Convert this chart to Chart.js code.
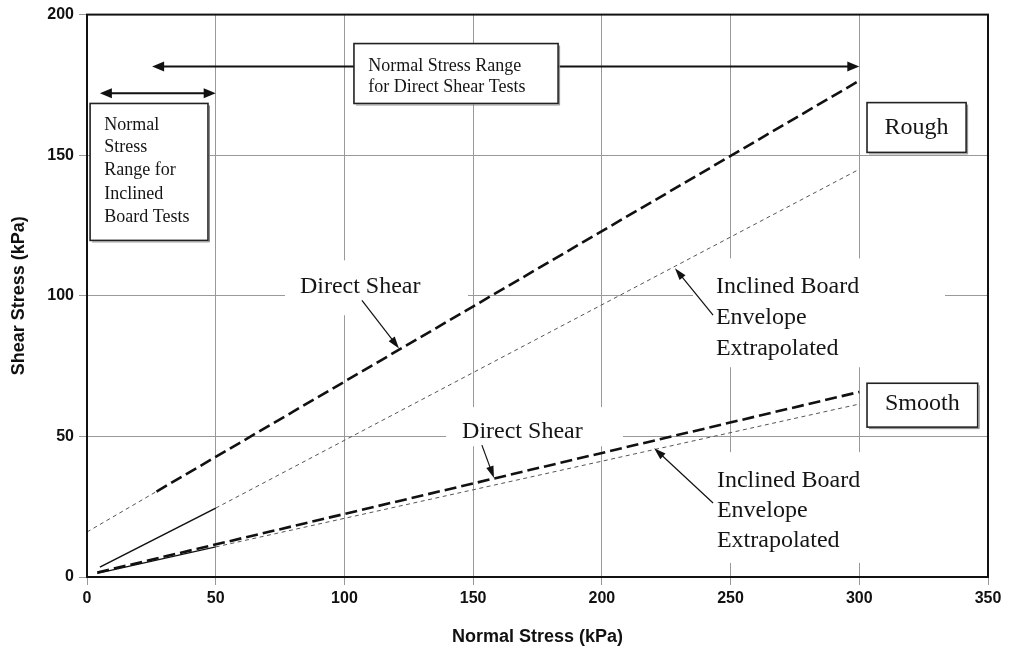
<!DOCTYPE html>
<html>
<head>
<meta charset="utf-8">
<script src="https://cdn.jsdelivr.net/npm/chart.js@4.4.1/dist/chart.umd.min.js"></script>
<style>
  html, body { margin: 0; padding: 0; background: #fff; overflow: hidden; }
  #wrap { width: 1010px; height: 650px; }
</style>
</head>
<body>
<div id="wrap"><canvas id="c" width="1010" height="650"></canvas></div>
<script>
// Axis ticks (kPa)
const xTicks = [0, 50, 100, 150, 200, 250, 300, 350];
const yTicks = [0, 50, 100, 150, 200];

// Rough interface: direct shear envelope (tested range) and its extension to the axis
const roughShearX = [27, 300];
const roughShearY = [30.4, 176.5];
const roughShearBackX = [0, 27];
const roughShearBackY = [16, 30.4];

// Rough interface: inclined board envelope (tested) and extrapolated
const roughBoardX = [5, 50];
const roughBoardY = [3.5, 24.5];
const roughBoardExtX = [50, 300];
const roughBoardExtY = [24.5, 145];

// Smooth interface: direct shear envelope
const smoothShearX = [4, 300];
const smoothShearY = [1.6, 65.8];

// Smooth interface: inclined board envelope (tested) and extrapolated
const smoothBoardX = [4, 50];
const smoothBoardY = [1.3, 10.7];
const smoothBoardExtX = [50, 300];
const smoothBoardExtY = [10.7, 61.5];

const pts = (xs, ys) => xs.map((x, i) => ({ x, y: ys[i] }));

const heavyDash = { borderColor: '#111', borderWidth: 2.6, borderDash: [12, 5] };
const lightDot  = { borderColor: '#555', borderWidth: 1,   borderDash: [4, 3.5] };
const solid     = { borderColor: '#111', borderWidth: 1.6, borderDash: [] };

const SERIF = '"Liberation Serif", "Times New Roman", serif';
const SANS = '"Liberation Sans", Arial, sans-serif';

// Annotation layout, in data units (kPa)
const labelBacks = [           // white areas behind free text (hide grid)
  [76.9, 112.6, 148.0, 93.1],
  [235.4, 113.3, 333.3, 74.6],
  [139.5, 60.4, 208.2, 46.5],
  [238.1, 44.4, 308.0, 5.0]
];
const framedBoxes = [          // boxed captions
  { box: [1.2, 168.4, 47.0, 119.7], size: 18, x: 6.7,
    lines: [['Normal', 158.8], ['Stress', 151.1], ['Range for', 142.8], ['Inclined', 134.5], ['Board Tests', 126.2]] },
  { box: [103.7, 189.7, 183.0, 168.4], size: 18, x: 109.3,
    lines: [['Normal Stress Range', 180.1], ['for Direct Shear Tests', 172.4]] },
  { box: [303.0, 168.7, 341.5, 151.0], size: 24, center: true, lines: [['Rough', 157.7]] },
  { box: [303.0, 68.9, 346.0, 53.3], size: 24, center: true, lines: [['Smooth', 59.3]] }
];
const freeTexts = [
  { x: 82.7, lines: [['Direct Shear', 100.9]] },
  { x: 244.3, lines: [['Inclined Board', 100.9], ['Envelope', 89.9], ['Extrapolated', 78.9]] },
  { x: 145.7, lines: [['Direct Shear', 49.3]] },
  { x: 244.7, lines: [['Inclined Board', 32.0], ['Envelope', 21.2], ['Extrapolated', 10.6]] }
];
const pointers = [             // [fromX, fromY, toX, toY]
  [106.8, 98.4, 121.2, 81.3],
  [153.4, 46.9, 158.1, 35.2],
  [243.2, 93.1, 228.4, 109.8],
  [243.2, 26.3, 220.3, 45.8]
];
const rangeArrows = [          // [x1, x2, y]
  [25.3, 300, 181.5],
  [5, 50, 172]
];

function head(ctx, x1, y1, x2, y2, len, half) {
  const a = Math.atan2(y2 - y1, x2 - x1);
  ctx.beginPath();
  ctx.moveTo(x2, y2);
  ctx.lineTo(x2 - len * Math.cos(a) + half * Math.sin(a), y2 - len * Math.sin(a) - half * Math.cos(a));
  ctx.lineTo(x2 - len * Math.cos(a) - half * Math.sin(a), y2 - len * Math.sin(a) + half * Math.cos(a));
  ctx.closePath();
  ctx.fill();
}

function line(ctx, x1, y1, x2, y2) {
  ctx.beginPath(); ctx.moveTo(x1, y1); ctx.lineTo(x2, y2); ctx.stroke();
}

const annotations = {
  id: 'annotations',
  beforeDatasetsDraw(chart) {
    const { ctx, scales: { x, y } } = chart;
    ctx.save();
    ctx.fillStyle = '#fff';
    labelBacks.forEach(([x1, y1, x2, y2]) => {
      const l = x.getPixelForValue(x1), t = y.getPixelForValue(y1);
      ctx.fillRect(l, t, x.getPixelForValue(x2) - l, y.getPixelForValue(y2) - t);
    });
    ctx.restore();
  },
  afterDatasetsDraw(chart) {
    const { ctx, chartArea: ca, scales: { x, y } } = chart;
    const X = v => x.getPixelForValue(v), Y = v => y.getPixelForValue(v);
    ctx.save();

    // plot frame
    ctx.strokeStyle = '#111';
    ctx.lineWidth = 2;
    ctx.strokeRect(ca.left, ca.top, ca.right - ca.left, ca.bottom - ca.top);

    // normal stress range arrows (double-headed)
    ctx.fillStyle = '#111';
    ctx.lineWidth = 2;
    rangeArrows.forEach(([a, b, v]) => {
      const xa = X(a), xb = X(b), yy = Y(v);
      line(ctx, xa + 6, yy, xb - 6, yy);
      head(ctx, xb - 12, yy, xb, yy, 12, 5);
      head(ctx, xa + 12, yy, xa, yy, 12, 5);
    });

    // pointer arrows
    ctx.lineWidth = 1.2;
    pointers.forEach(([a, b, c, d]) => {
      const x1 = X(a), y1 = Y(b), x2 = X(c), y2 = Y(d);
      const ang = Math.atan2(y2 - y1, x2 - x1);
      line(ctx, x1, y1, x2 - 6 * Math.cos(ang), y2 - 6 * Math.sin(ang));
      head(ctx, x1, y1, x2, y2, 12, 3.8);
    });

    // boxed captions
    framedBoxes.forEach(b => {
      const [x1, y1, x2, y2] = b.box;
      const l = X(x1), t = Y(y1), w = X(x2) - l, h = Y(y2) - t;
      ctx.fillStyle = '#fff';
      ctx.fillRect(l, t, w, h);
      ctx.strokeStyle = '#222';
      ctx.lineWidth = 1.6;
      ctx.strokeRect(l, t, w, h);
      ctx.strokeStyle = '#888';
      ctx.lineWidth = 1;
      line(ctx, l + 2, t + h + 1.5, l + w + 1.5, t + h + 1.5);
      line(ctx, l + w + 1.5, t + 2, l + w + 1.5, t + h + 1.5);
      ctx.fillStyle = '#151515';
      ctx.font = b.size + 'px ' + SERIF;
      ctx.textBaseline = 'alphabetic';
      ctx.textAlign = b.center ? 'center' : 'left';
      b.lines.forEach(([s, v]) => ctx.fillText(s, b.center ? l + w / 2 : X(b.x), Y(v)));
    });

    // free text
    ctx.fillStyle = '#151515';
    ctx.font = '24px ' + SERIF;
    ctx.textAlign = 'left';
    ctx.textBaseline = 'alphabetic';
    freeTexts.forEach(t => t.lines.forEach(([s, v]) => ctx.fillText(s, X(t.x), Y(v))));

    ctx.restore();
  }
};

new Chart(document.getElementById('c'), {
  type: 'scatter',
  data: {
    datasets: [
      { label: 'Rough – Direct Shear', data: pts(roughShearX, roughShearY), ...heavyDash },
      { label: 'Rough – Direct Shear (extended)', data: pts(roughShearBackX, roughShearBackY), ...lightDot },
      { label: 'Rough – Inclined Board', data: pts(roughBoardX, roughBoardY), ...solid },
      { label: 'Rough – Inclined Board (extrapolated)', data: pts(roughBoardExtX, roughBoardExtY), ...lightDot },
      { label: 'Smooth – Inclined Board', data: pts(smoothBoardX, smoothBoardY), ...solid, borderWidth: 1.2 },
      { label: 'Smooth – Inclined Board (extrapolated)', data: pts(smoothBoardExtX, smoothBoardExtY), ...lightDot },
      { label: 'Smooth – Direct Shear', data: pts(smoothShearX, smoothShearY), ...heavyDash }
    ].map(d => ({ ...d, showLine: true, pointRadius: 0, fill: false, tension: 0 }))
  },
  options: {
    responsive: false,
    animation: false,
    events: [],
    layout: { padding: { top: 14, right: 22, left: 0, bottom: 0 } },
    plugins: { legend: { display: false }, tooltip: { enabled: false } },
    scales: {
      x: {
        type: 'linear', min: 0, max: 350,
        afterFit: s => { s.height = 73; },
        afterBuildTicks: s => { s.ticks = xTicks.map(v => ({ value: v })); },
        grid: { color: '#999', lineWidth: 1, tickLength: 8, drawTicks: true },
        border: { color: '#111', width: 2 },
        ticks: { color: '#111', padding: 4, font: { family: SANS, size: 16, weight: 'bold' } },
        title: { display: true, text: 'Normal Stress (kPa)', color: '#111',
                 padding: { top: 0, bottom: 2 }, font: { family: SANS, size: 18, weight: 'bold' } }
      },
      y: {
        type: 'linear', min: 0, max: 200,
        afterFit: s => { s.width = 87; },
        afterBuildTicks: s => { s.ticks = yTicks.map(v => ({ value: v })); },
        grid: { color: '#999', lineWidth: 1, tickLength: 8, drawTicks: true },
        border: { color: '#111', width: 2 },
        ticks: { color: '#111', padding: 5, font: { family: SANS, size: 16, weight: 'bold' } },
        title: { display: true, text: 'Shear Stress (kPa)', color: '#111',
                 padding: { top: 8, bottom: 0 }, font: { family: SANS, size: 18, weight: 'bold' } }
      }
    }
  },
  plugins: [annotations]
});
</script>
</body>
</html>
